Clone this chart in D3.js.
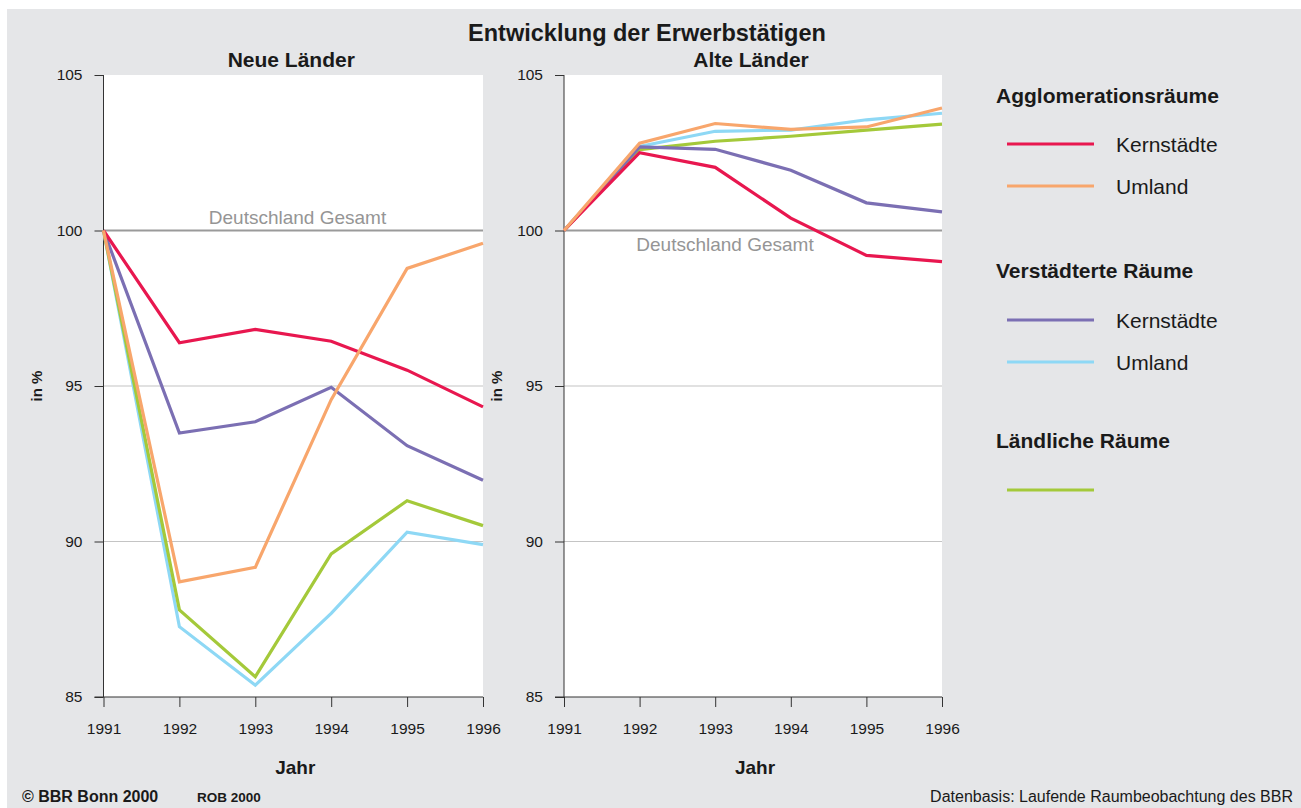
<!DOCTYPE html>
<html>
<head>
<meta charset="utf-8">
<script src="https://cdn.jsdelivr.net/npm/d3@7"></script>
<style>
  body { margin: 0; background: #fff; }
  svg { display: block; font-family: "Liberation Sans", Arial, sans-serif; }
</style>
</head>
<body>
<div id="chart"></div>
<script>
// years on the x axis
const years = [1991, 1992, 1993, 1994, 1995, 1996];
const yTicks = [85, 90, 95, 100, 105];

// Neue Länder (index 1991 = 100)
const neuAggloKern = [100, 96.39, 96.82, 96.44, 95.51, 94.33];
const neuAggloUmland = [100, 88.70, 89.17, 94.56, 98.78, 99.59];
const neuVerstKern = [100, 93.49, 93.85, 94.96, 93.08, 91.97];
const neuVerstUmland = [100, 87.26, 85.38, 87.69, 90.30, 89.90];
const neuLaendlich = [100, 87.80, 85.65, 89.60, 91.31, 90.51];

// Alte Länder
const altAggloKern = [100, 102.50, 102.03, 100.40, 99.20, 99.00];
const altAggloUmland = [100, 102.81, 103.44, 103.25, 103.33, 103.94];
const altVerstKern = [100, 102.69, 102.61, 101.94, 100.89, 100.60];
const altVerstUmland = [100, 102.70, 103.19, 103.23, 103.56, 103.77];
const altLaendlich = [100, 102.60, 102.87, 103.03, 103.23, 103.42];

const colors = {
  aggloKern: "#e8174f",
  aggloUmland: "#f8a66c",
  verstKern: "#7b6fb3",
  verstUmland: "#8ed8f5",
  laendlich: "#a4c93a"
};

const svgWidth = 1301;
const svgHeight = 808;

const svg = d3.select("#chart")
  .append("svg")
  .attr("width", svgWidth)
  .attr("height", svgHeight);

// grey page background
svg.append("rect")
  .attr("x", 7).attr("y", 9)
  .attr("width", svgWidth - 7).attr("height", svgHeight - 9)
  .attr("fill", "#e5e6e8");

svg.append("text")
  .attr("x", 647).attr("y", 41)
  .attr("text-anchor", "middle")
  .attr("font-size", 23.5).attr("font-weight", "bold").attr("fill", "#1a1a1a")
  .text("Entwicklung der Erwerbstätigen");

const plotTop = 75, plotBottom = 697;

function drawPanel(left, right, title, series, refLabelBelow) {
  const x = d3.scaleLinear().domain([1991, 1996]).range([left, right]);
  const y = d3.scaleLinear().domain([85, 105]).range([plotBottom, plotTop]);
  const g = svg.append("g");

  g.append("rect")
    .attr("x", left).attr("y", plotTop)
    .attr("width", right - left).attr("height", plotBottom - plotTop)
    .attr("fill", "#fff");

  // grid lines at 90 and 95
  g.selectAll("line.grid")
    .data([90, 95])
    .enter().append("line")
    .attr("x1", left).attr("x2", right)
    .attr("y1", d => y(d)).attr("y2", d => y(d))
    .attr("stroke", "#c4c4c4").attr("stroke-width", 1.2);

  // Deutschland Gesamt reference
  g.append("line")
    .attr("x1", left).attr("x2", right)
    .attr("y1", y(100)).attr("y2", y(100))
    .attr("stroke", "#9a9a9a").attr("stroke-width", 2);
  g.append("text")
    .attr("x", refLabelBelow ? left + 161 : left + 194)
    .attr("y", refLabelBelow ? y(100) + 20 : y(100) - 7)
    .attr("text-anchor", "middle")
    .attr("font-size", 19).attr("fill", "#959595")
    .text("Deutschland Gesamt");

  // axes
  const leftAxis = d3.axisLeft(y).tickValues(yTicks).tickSize(9).tickPadding(12);
  const bottomAxis = d3.axisBottom(x).tickValues(years).tickFormat(d3.format("d")).tickSize(10).tickPadding(16);

  const ya = g.append("g").attr("transform", `translate(${left},0)`).call(leftAxis);
  const xa = g.append("g").attr("transform", `translate(0,${plotBottom})`).call(bottomAxis);
  [ya, xa].forEach(a => {
    a.select(".domain").remove();
    a.selectAll("line").attr("stroke", "#333");
    a.selectAll("text").attr("font-size", 15.5).attr("fill", "#1a1a1a")
      .attr("font-family", "Liberation Sans, Arial, sans-serif");
  });
  g.append("line").attr("x1", left).attr("x2", left).attr("y1", plotTop).attr("y2", plotBottom)
    .attr("stroke", "#333");
  g.append("line").attr("x1", left - 9).attr("x2", right).attr("y1", plotBottom).attr("y2", plotBottom)
    .attr("stroke", "#333");

  const line = d3.line().x((d, i) => x(years[i])).y(d => y(d));
  series.forEach(s => {
    g.append("path")
      .datum(s.values)
      .attr("d", line)
      .attr("fill", "none")
      .attr("stroke", s.color)
      .attr("stroke-width", 3.2)
      .attr("stroke-linejoin", "miter");
  });

  g.append("text")
    .attr("x", (left + right) / 2 - 2).attr("y", 67)
    .attr("text-anchor", "middle")
    .attr("font-size", 21).attr("font-weight", "bold").attr("fill", "#1a1a1a")
    .text(title);

  g.append("text")
    .attr("x", (left + right) / 2 + 2).attr("y", 774)
    .attr("text-anchor", "middle")
    .attr("font-size", 19).attr("font-weight", "bold").attr("fill", "#1a1a1a")
    .text("Jahr");

  g.append("text")
    .attr("transform", `translate(${left - 62},${y(95)}) rotate(-90)`)
    .attr("text-anchor", "middle")
    .attr("font-size", 15).attr("font-weight", "bold").attr("fill", "#1a1a1a")
    .text("in %");
}

drawPanel(103.5, 483, "Neue Länder", [
  { values: neuVerstUmland, color: colors.verstUmland },
  { values: neuLaendlich, color: colors.laendlich },
  { values: neuVerstKern, color: colors.verstKern },
  { values: neuAggloKern, color: colors.aggloKern },
  { values: neuAggloUmland, color: colors.aggloUmland }
], false);

drawPanel(564, 942, "Alte Länder", [
  { values: altVerstUmland, color: colors.verstUmland },
  { values: altLaendlich, color: colors.laendlich },
  { values: altVerstKern, color: colors.verstKern },
  { values: altAggloKern, color: colors.aggloKern },
  { values: altAggloUmland, color: colors.aggloUmland }
], true);

// legend
const legendHeads = [
  { text: "Agglomerationsräume", y: 103 },
  { text: "Verstädterte Räume", y: 278 },
  { text: "Ländliche Räume", y: 448 }
];
const legendItems = [
  { label: "Kernstädte", color: colors.aggloKern, y: 144 },
  { label: "Umland", color: colors.aggloUmland, y: 186 },
  { label: "Kernstädte", color: colors.verstKern, y: 320 },
  { label: "Umland", color: colors.verstUmland, y: 362 },
  { label: "", color: colors.laendlich, y: 490 }
];
const legend = svg.append("g");
legend.selectAll("text.head")
  .data(legendHeads)
  .enter().append("text")
  .attr("x", 996).attr("y", d => d.y)
  .attr("font-size", 21).attr("font-weight", "bold").attr("fill", "#1a1a1a")
  .text(d => d.text);
legend.selectAll("line.item")
  .data(legendItems)
  .enter().append("line")
  .attr("x1", 1007).attr("x2", 1094)
  .attr("y1", d => d.y).attr("y2", d => d.y)
  .attr("stroke", d => d.color).attr("stroke-width", 3.2);
legend.selectAll("text.item")
  .data(legendItems)
  .enter().append("text")
  .attr("x", 1116).attr("y", d => d.y + 8)
  .attr("font-size", 21).attr("fill", "#1a1a1a")
  .text(d => d.label);

// footer
svg.append("text").attr("x", 22).attr("y", 802)
  .attr("font-size", 16).attr("font-weight", "bold").attr("fill", "#1a1a1a")
  .text("© BBR Bonn 2000");
svg.append("text").attr("x", 197).attr("y", 802)
  .attr("font-size", 13.5).attr("font-weight", "bold").attr("fill", "#1a1a1a")
  .text("ROB 2000");
svg.append("text").attr("x", 1293).attr("y", 802)
  .attr("text-anchor", "end")
  .attr("font-size", 16).attr("fill", "#1a1a1a")
  .text("Datenbasis: Laufende Raumbeobachtung des BBR");
</script>
</body>
</html>
